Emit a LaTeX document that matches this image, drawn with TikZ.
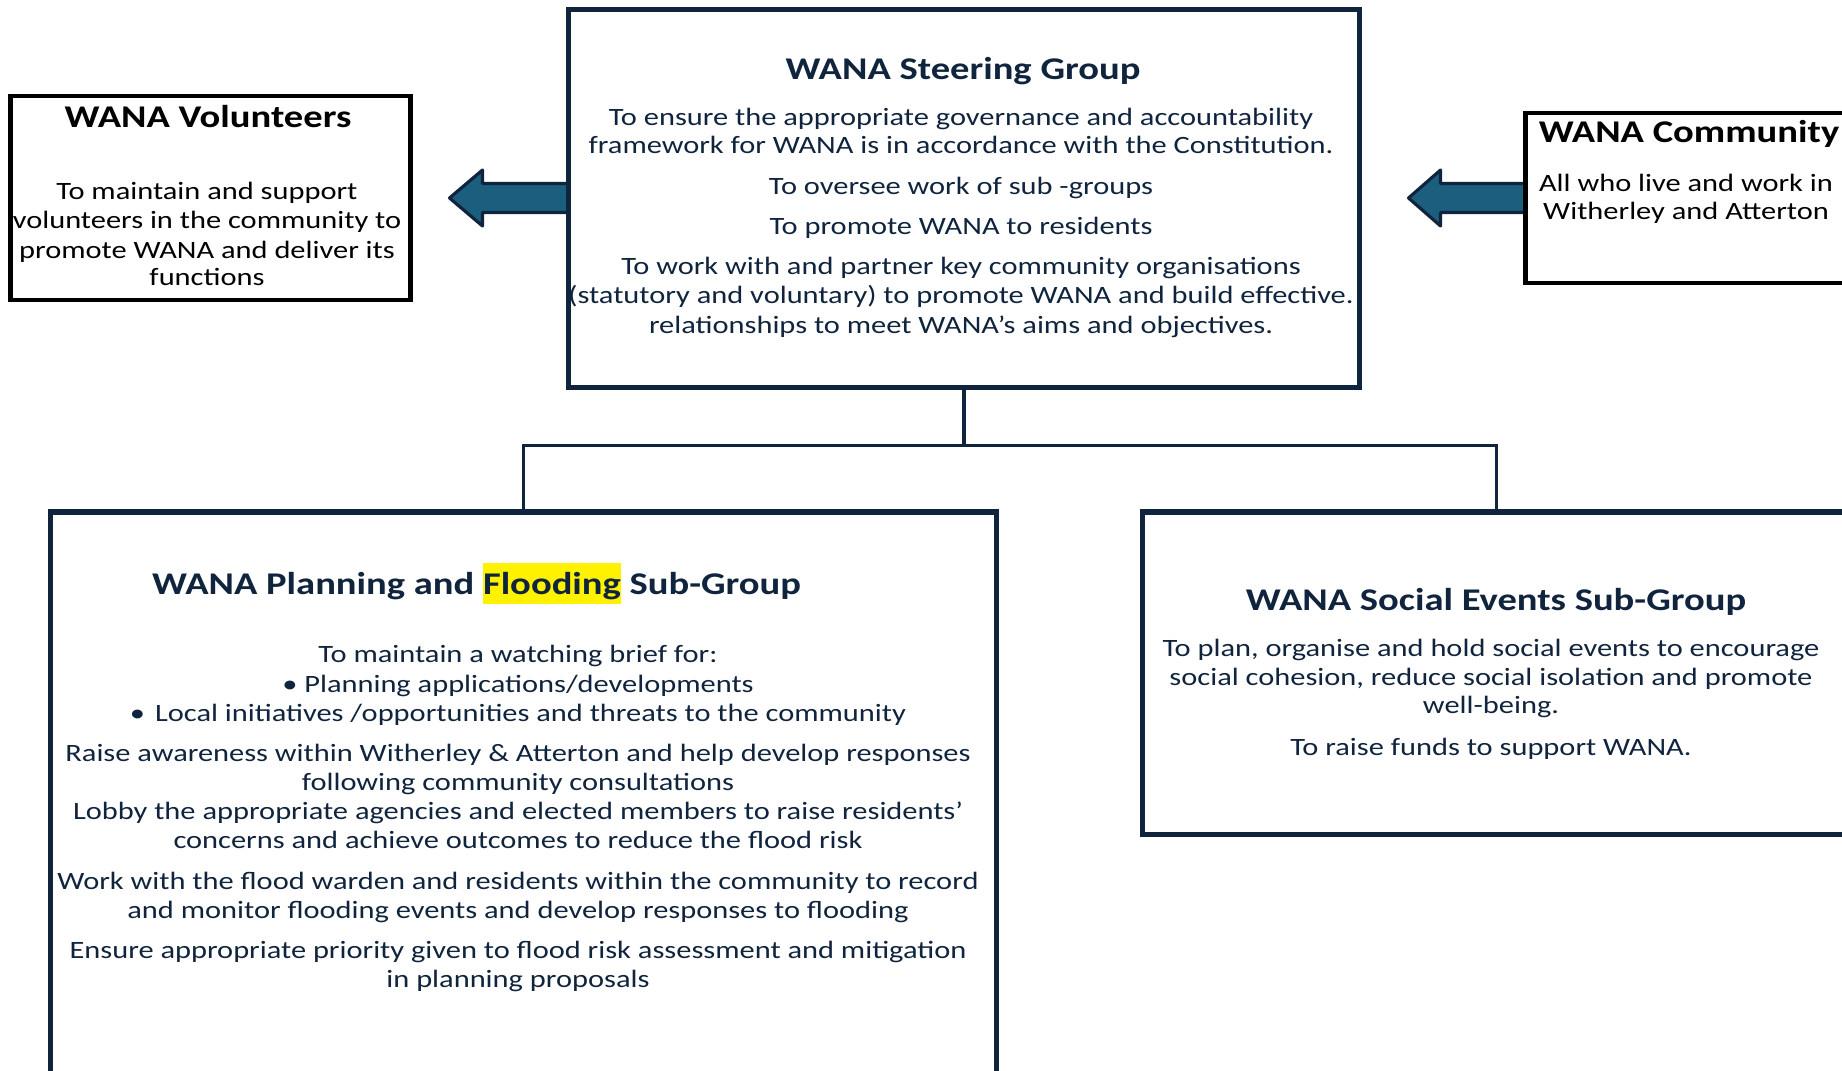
\documentclass[tikz,border=0pt]{standalone}
\usepackage{fontspec}
\usetikzlibrary{calc}
\setmainfont{Carlito}[FakeStretch=1.22]
\definecolor{navy}{RGB}{16,36,62}
\definecolor{arrowblue}{RGB}{27,94,126}
\setlength{\fboxsep}{0pt}
\begin{document}
\begin{tikzpicture}[x=0.02cm,y=-0.02cm,
  navybox/.style={draw=navy, line width=2.9pt, inner sep=0pt, outer sep=0pt, anchor=north west},
  blackbox/.style={draw=black, line width=2.5pt, inner sep=0pt, outer sep=0pt, anchor=north west},
  ttl/.style={font=\fontsize{18pt}{21pt}\selectfont\bfseries, anchor=base, inner sep=0pt},
  body/.style={font=\fontsize{14.2pt}{17pt}\selectfont, anchor=base, inner sep=0pt},
  link/.style={draw=navy, line width=2.1pt},
  blockarrow/.style={fill=arrowblue, draw=navy, line width=1.8pt, line join=round}]
\useasboundingbox (0,0) rectangle (1842,1071);
\clip (0,0) rectangle (1842,1071);

% block arrows (drawn below the boxes)
\coordinate (steerW) at (568.5,198);
\coordinate (commW) at (1525.5,198);
\begin{scope}[shift={(steerW)}]
  \draw[blockarrow] (0,-14.5) -- (-86,-14.5) -- (-86,-28) -- (-119,0) -- (-86,28) -- (-86,14.5) -- (0,14.5) -- cycle;
\end{scope}
\begin{scope}[shift={(commW)}]
  \draw[blockarrow] (0,-14.5) -- (-85,-14.5) -- (-85,-28) -- (-117,0) -- (-85,28) -- (-85,14.5) -- (0,14.5) -- cycle;
\end{scope}

% boxes
\node[navybox, minimum width=15.82cm, minimum height=7.56cm] (steer) at (568.5,9.5) {};
\node[blackbox, minimum width=8cm, minimum height=4.08cm] (vol) at (10.5,96) {};
\node[blackbox, minimum width=7.52cm, minimum height=3.4cm] (comm) at (1525.5,113) {};
\node[navybox, minimum width=18.92cm, minimum height=12.18cm] (plan) at (50.5,512) {};
\node[navybox, minimum width=14.16cm, minimum height=6.46cm] (soc) at (1142.5,512) {};

% connectors
\coordinate (bus) at ($(steer.south)+(0,58)$);
\draw[link] (steer.south) -- (bus) -| (plan.north);
\draw[link] (bus) -| (soc.north);

% Steering group text
\node[ttl, text=navy] (sttl) at (963,80) {WANA Steering Group};
\foreach \yy/\txt [count=\i] in {
  126/{To ensure the appropriate governance and accountability},
  154/{framework for WANA is in accordance with the Constitution.},
  194.6/{To oversee work of sub -groups},
  235/{To promote WANA to residents},
  274.5/{To work with and partner key community organisations},
  303.7/{(statutory and voluntary) to promote WANA and build effective.},
  333/{relationships to meet WANA’s aims and objectives.}}
  {\node[body, text=navy] (st\i) at (961,\yy) {\txt};}

% Volunteers
\node[ttl, text=black] (vttl) at (208,127.4) {WANA Volunteers};
\foreach \yy/\txt [count=\i] in {
  199.7/{To maintain and support},
  229/{volunteers in the community to},
  258/{promote WANA and deliver its},
  285/{functions}}
  {\node[body, text=black] (vo\i) at (207,\yy) {\txt};}

% Community
\node[ttl, text=black] (cttl) at (1689,143) {WANA Community};
\node[body, text=black] (co1) at (1686,191.7) {All who live and work in};
\node[body, text=black] (co2) at (1686,220) {Witherley and Atterton};

% Planning and Flooding
\node[ttl, text=navy] (pttl) at (476.6,594.7) {WANA Planning and \colorbox{yellow}{\rule[-0.3em]{0pt}{1.3em}Flooding} Sub-Group};
\foreach \yy/\txt [count=\i] in {
  662.8/{To maintain a watching brief for:},
  692/{• Planning applications/developments},
  721.4/{•\hspace{0.4em}Local initiatives /opportunities and threats to the community},
  761/{Raise awareness within Witherley \& Atterton and help develop responses},
  790/{following community consultations},
  819.7/{Lobby the appropriate agencies and elected members to raise residents’},
  848.9/{concerns and achieve outcomes to reduce the flood risk},
  889/{Work with the flood warden and residents within the community to record},
  918/{and monitor flooding events and develop responses to flooding},
  958/{Ensure appropriate priority given to flood risk assessment and mitigation},
  987.2/{in planning proposals}}
  {\node[body, text=navy] (pl\i) at (518,\yy) {\txt};}

% Social events
\node[ttl, text=navy] (sottl) at (1496,610) {WANA Social Events Sub-Group};
\foreach \yy/\txt [count=\i] in {
  656/{To plan, organise and hold social events to encourage},
  685/{social cohesion, reduce social isolation and promote},
  713/{well-being.},
  755/{To raise funds to support WANA.}}
  {\node[body, text=navy] (so\i) at (1491,\yy) {\txt};}
\end{tikzpicture}
\end{document}
